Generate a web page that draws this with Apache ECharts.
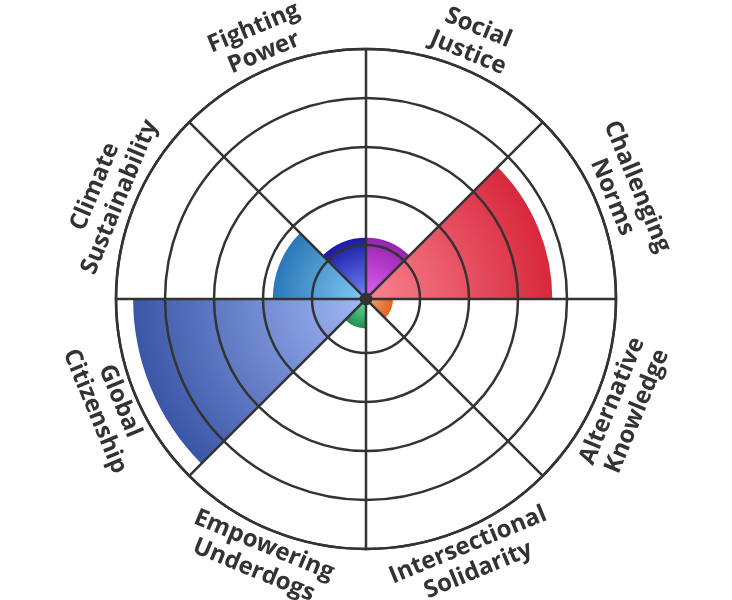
<!DOCTYPE html>
<html>
<head>
<meta charset="utf-8">
<script src="https://cdn.jsdelivr.net/npm/echarts@6/dist/echarts.min.js"></script>
<style>
  html, body { margin: 0; padding: 0; background: #fff; }
  #chart { width: 732px; height: 600px; }
</style>
</head>
<body>
<div id="chart"></div>
<script>
'use strict';

// categories clockwise from 12 o'clock
var categories = ['Social Justice', 'Challenging Norms', 'Alternative Knowledge', 'Intersectional Solidarity',
                  'Empowering Underdogs', 'Global Citizenship', 'Climate Sustainability', 'Fighting Power'];
var scores = [23, 74, 9, 0, 10, 93, 36, 23];
var innerColors = ['#e262f5', '#f98490', '#f9a673', '#9fe0b8', '#72dca0', '#a2b8f6', '#84ccf6', '#7486f8'];
var outerColors = ['#9424ae', '#d8283c', '#df6422', '#2e9a5e', '#1f9050', '#3a56a6', '#2a78b8', '#1a1aa6'];

var cx = 366, cy = 299, rInner = 5, rOuter = 250;

function fill(i) {
    // radial shading from the centre out to the end of each bar
    var r = rInner + (rOuter - rInner) * scores[i] / 100;
    return new echarts.graphic.RadialGradient(cx, cy, Math.max(r, 1), [
        {offset: 0, color: innerColors[i]},
        {offset: 1, color: outerColors[i]}
    ], true);
}

var barData = [];
var labelData = [];
for (var i = 0; i < categories.length; i++) {
    barData.push({value: scores[i], itemStyle: {color: fill(i)}});
    labelData.push({value: 1, name: categories[i]});
}

var chart = echarts.init(document.getElementById('chart'));
var option = {
    backgroundColor: '#fff',
    animation: false,
    polar: {
        center: [cx, cy],
        radius: [rInner, rOuter]
    },
    angleAxis: {
        type: 'category',
        data: categories,
        startAngle: 90,
        z: 10,
        axisLine: {lineStyle: {color: '#333', width: 2.5}},
        axisTick: {show: false},
        axisLabel: {show: false},
        splitLine: {show: true, lineStyle: {color: '#333', width: 2.5}}
    },
    radiusAxis: {
        min: 0,
        max: 100,
        interval: 20,
        z: 10,
        axisLine: {show: false},
        axisTick: {show: false},
        axisLabel: {show: false},
        splitLine: {show: true, lineStyle: {color: '#333', width: 2.5}}
    },
    // the spokes meet in a dark knot in the middle
    graphic: [{
        type: 'circle',
        shape: {cx: cx, cy: cy, r: 5},
        style: {fill: '#333'},
        z: 20,
        silent: true
    }],
    series: [
        {
            type: 'bar',
            coordinateSystem: 'polar',
            barCategoryGap: '0%',
            data: barData,
            silent: true
        },
        {
            type: 'pie',
            center: [cx, cy],
            radius: [252, 302],
            startAngle: 90,
            silent: true,
            itemStyle: {color: 'rgba(0,0,0,0)'},
            label: {
                show: true,
                position: 'inside',
                rotate: 'tangential',
                formatter: function (p) { return p.name.replace(' ', '\n'); },
                fontFamily: 'Open Sans',
                fontWeight: 'bold',
                fontSize: 24,
                lineHeight: 27,
                color: '#333'
            },
            labelLine: {show: false},
            emphasis: {disabled: true},
            data: labelData
        }
    ]
};
chart.setOption(option);
</script>
</body>
</html>
